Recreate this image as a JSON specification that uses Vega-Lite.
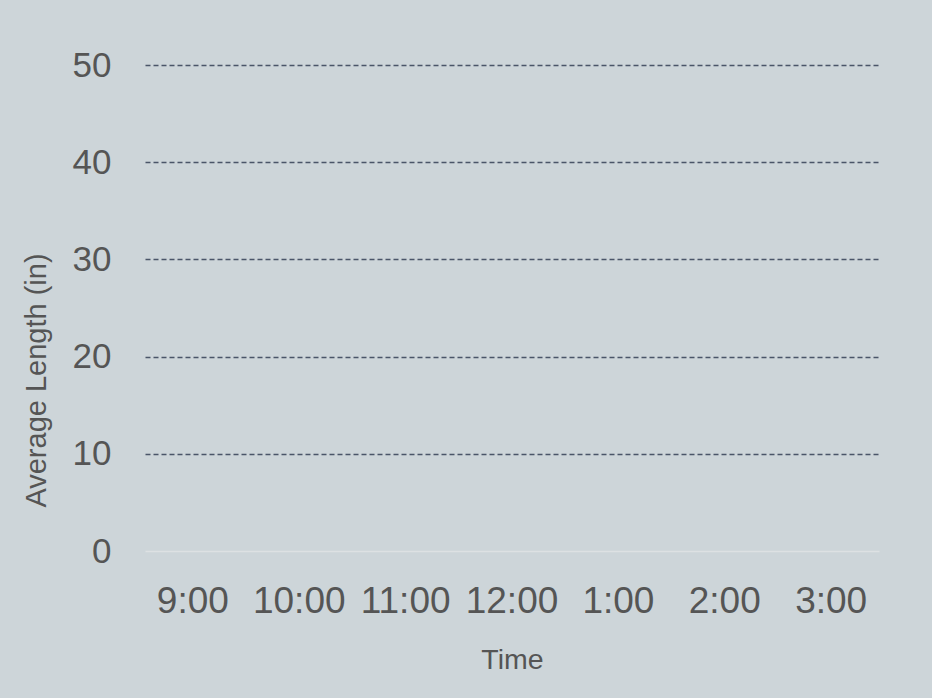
{
  "$schema": "https://vega.github.io/schema/vega-lite/v6.json",
  "width": 734,
  "height": 486,
  "autosize": {"type": "none"},
  "padding": {"left": 145, "top": 65, "right": 53, "bottom": 147},
  "background": "#cdd5d9",
  "config": {
    "view": {"stroke": null},
    "font": "Liberation Sans"
  },
  "data": {
    "values": [
      {"time": "9:00", "length": null},
      {"time": "10:00", "length": null},
      {"time": "11:00", "length": null},
      {"time": "12:00", "length": null},
      {"time": "1:00", "length": null},
      {"time": "2:00", "length": null},
      {"time": "3:00", "length": null}
    ]
  },
  "mark": {"type": "bar", "color": "#4a5568"},
  "encoding": {
    "x": {
      "field": "time",
      "type": "nominal",
      "sort": null,
      "scale": {"domain": ["9:00", "10:00", "11:00", "12:00", "1:00", "2:00", "3:00"], "paddingOuter": 0, "paddingInner": 0.1},
      "axis": {
        "title": "Time",
        "labelAngle": 0,
        "labelFontSize": 37,
        "labelColor": "#555555",
        "labelPadding": 32,
        "titleFontSize": 28.5,
        "titleFontWeight": "normal",
        "titleColor": "#555555",
        "titlePadding": 26,
        "domain": false,
        "ticks": false,
        "grid": false
      }
    },
    "y": {
      "field": "length",
      "type": "quantitative",
      "scale": {"domain": [0, 50], "nice": false, "zero": true},
      "axis": {
        "title": "Average Length (in)",
        "values": [0, 10, 20, 30, 40, 50],
        "labelFontSize": 35,
        "labelColor": "#555555",
        "labelPadding": 34,
        "titleFontSize": 29,
        "titleFontWeight": "normal",
        "titleColor": "#555555",
        "titleX": -94,
        "titleY": 315,
        "titleAlign": "center",
        "titleBaseline": "bottom",
        "domain": false,
        "ticks": false,
        "grid": true,
        "gridColor": {"condition": {"test": "datum.value === 0", "value": "#dde1e3"}, "value": "#4a5568"},
        "gridDash": {"condition": {"test": "datum.value === 0", "value": []}, "value": [5, 3]},
        "gridWidth": 1.3,
        "gridOpacity": 1
      }
    }
  }
}
